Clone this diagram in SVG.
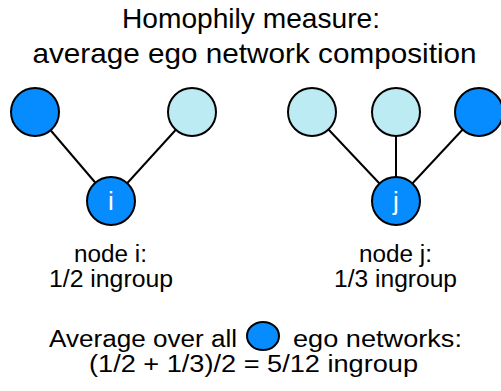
<svg xmlns="http://www.w3.org/2000/svg" width="501" height="391" viewBox="0 0 501 391">
<style>
.t{font-family:"Liberation Sans",Arial,sans-serif;fill:#000}
.title{font-size:28px}
.lab{font-size:23px}
.in{fill:#068CFE;stroke:#000;stroke-width:2}
.out{fill:#BDEBF4;stroke:#000;stroke-width:2}
.e{stroke:#000;stroke-width:2;fill:none}
.nl{font-family:"Liberation Sans",Arial,sans-serif;font-size:26px;fill:#fff;text-anchor:middle}
</style>
<rect width="501" height="391" fill="#fff"/>
<text class="t title" x="122" y="28" textLength="258" lengthAdjust="spacingAndGlyphs">Homophily measure:</text>
<text class="t title" x="32.5" y="63" textLength="444" lengthAdjust="spacingAndGlyphs">average ego network composition</text>
<g id="connectors">
<line class="e" x1="35" y1="112" x2="111" y2="201"/>
<line class="e" x1="192" y1="112" x2="111" y2="201"/>
<line class="e" x1="312" y1="112" x2="396" y2="201"/>
<line class="e" x1="396" y1="112" x2="396" y2="201"/>
<line class="e" x1="479" y1="112" x2="396" y2="201"/>
</g>
<g id="a1"><circle class="in" cx="35" cy="112" r="24"/></g>
<g id="a2"><circle class="out" cx="192" cy="112" r="24"/></g>
<g id="i"><circle class="in" cx="111" cy="201" r="24"/><text class="nl" x="111" y="210">i</text></g>
<g id="b1"><circle class="out" cx="312" cy="112" r="24"/></g>
<g id="b2"><circle class="out" cx="396" cy="112" r="24"/></g>
<g id="b3"><circle class="in" cx="479" cy="112" r="24"/></g>
<g id="j"><circle class="in" cx="396" cy="201" r="24"/><text class="nl" x="396" y="210">j</text></g>
<text class="t lab" x="74" y="262" textLength="73" lengthAdjust="spacingAndGlyphs">node i:</text>
<text class="t lab" x="49" y="287" textLength="124" lengthAdjust="spacingAndGlyphs">1/2 ingroup</text>
<text class="t lab" x="359" y="262" textLength="73" lengthAdjust="spacingAndGlyphs">node j:</text>
<text class="t lab" x="334" y="287" textLength="123" lengthAdjust="spacingAndGlyphs">1/3 ingroup</text>
<text class="t lab" x="49" y="347" textLength="188" lengthAdjust="spacingAndGlyphs">Average over all</text>
<ellipse class="in" cx="263" cy="336" rx="16" ry="14"/>
<text class="t lab" x="293" y="347" textLength="169" lengthAdjust="spacingAndGlyphs">ego networks:</text>
<text class="t lab" x="89" y="372" textLength="329" lengthAdjust="spacingAndGlyphs">(1/2 + 1/3)/2 = 5/12 ingroup</text>
</svg>
